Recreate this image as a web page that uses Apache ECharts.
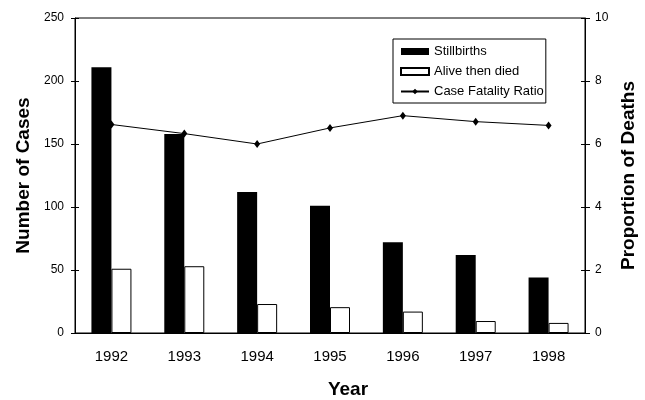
<!DOCTYPE html>
<html>
<head>
<meta charset="utf-8">
<script src="https://cdn.jsdelivr.net/npm/echarts@6/dist/echarts.min.js"></script>
<style>
  html, body { margin: 0; padding: 0; background: #fff; }
  #chart { width: 645px; height: 400px; }
</style>
</head>
<body>
<div id="chart"></div>
<script>
// 年份与各系列数值
const years = ['1992', '1993', '1994', '1995', '1996', '1997', '1998']
const stillbirths = [211, 158, 112, 101, 72, 62, 44]
const aliveThenDied = [51, 53, 23, 20.5, 17, 9.5, 8]
const caseFatality = [6.62, 6.33, 6.0, 6.51, 6.9, 6.71, 6.59]

const font = 'Liberation Sans, Arial, sans-serif'
const titleStyle = { fontFamily: font, fontSize: 19, fontWeight: 'bold', color: '#000' }
const labelStyle = { fontFamily: font, fontSize: 12, color: '#000' }

const chart = echarts.init(document.getElementById('chart'))

// 刻度线需要穿过轴线，用一个只画内侧刻度的辅助轴来补
function innerTickAxis(position, max, interval) {
  return {
    type: 'value',
    position: position,
    min: 0,
    max: max,
    interval: interval,
    axisLine: { show: false },
    axisTick: { show: true, inside: true, length: 4, lineStyle: { color: '#000' } },
    axisLabel: { show: false },
    splitLine: { show: false }
  }
}

const option = {
  animation: false,
  backgroundColor: '#fff',
  grid: {
    left: 75,
    right: 60,
    top: 18,
    bottom: 67,
    outerBoundsMode: 'none',
    show: true,
    borderColor: '#000',
    borderWidth: 1
  },
  legend: {
    orient: 'vertical',
    left: 393,
    top: 39,
    padding: [6, 2, 5, 7],
    itemGap: 7,
    itemWidth: 28,
    itemHeight: 7,
    backgroundColor: '#fff',
    borderColor: '#000',
    borderWidth: 1,
    borderRadius: 0,
    textStyle: { fontFamily: font, fontSize: 13, color: '#000' },
    data: [
      { name: 'Stillbirths', icon: 'rect' },
      { name: 'Alive then died', icon: 'rect' },
      { name: 'Case Fatality Ratio' }
    ]
  },
  xAxis: {
    type: 'category',
    data: years,
    name: 'Year',
    nameLocation: 'middle',
    nameGap: 47,
    nameTextStyle: Object.assign({}, titleStyle, { padding: [0, 0, 0, 36] }),
    axisLine: { lineStyle: { color: '#000', width: 1 } },
    axisTick: { show: false },
    axisLabel: { fontFamily: font, fontSize: 15, color: '#000', margin: 16 }
  },
  yAxis: [
    {
      type: 'value',
      min: 0,
      max: 250,
      interval: 50,
      name: 'Number of Cases',
      nameLocation: 'middle',
      nameGap: 41,
      nameTextStyle: titleStyle,
      axisLine: { show: true, lineStyle: { color: '#000' } },
      axisTick: { show: true, length: 4, lineStyle: { color: '#000' } },
      axisLabel: Object.assign({ margin: 11 }, labelStyle),
      splitLine: { show: false }
    },
    {
      type: 'value',
      min: 0,
      max: 10,
      interval: 2,
      name: 'Proportion of Deaths',
      nameLocation: 'middle',
      nameGap: 34,
      nameRotate: 90,
      nameTextStyle: titleStyle,
      axisLine: { show: true, lineStyle: { color: '#000' } },
      axisTick: { show: true, length: 5, lineStyle: { color: '#000' } },
      axisLabel: Object.assign({ margin: 10 }, labelStyle),
      splitLine: { show: false }
    },
    innerTickAxis('left', 250, 50),
    innerTickAxis('right', 10, 2)
  ],
  series: [
    {
      name: 'Stillbirths',
      type: 'bar',
      data: stillbirths,
      barWidth: 20,
      barGap: '0%',
      itemStyle: { color: '#000' }
    },
    {
      name: 'Alive then died',
      type: 'bar',
      data: aliveThenDied,
      barWidth: 20,
      barGap: '0%',
      itemStyle: { color: '#fff', borderColor: '#000', borderWidth: 1 }
    },
    {
      name: 'Case Fatality Ratio',
      type: 'line',
      yAxisIndex: 1,
      data: caseFatality,
      symbol: 'diamond',
      symbolSize: [6, 8],
      itemStyle: { color: '#000' },
      lineStyle: { color: '#000', width: 1 }
    }
  ]
}

chart.setOption(option)
</script>
</body>
</html>
